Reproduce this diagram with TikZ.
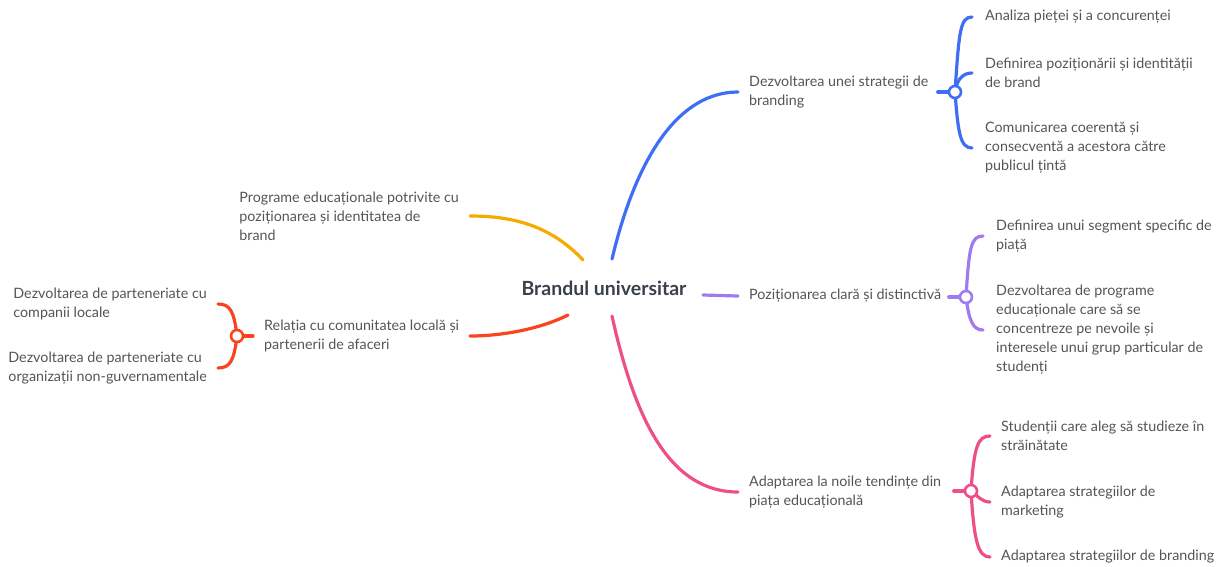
\documentclass[tikz,border=0pt]{standalone}
\usepackage{fontspec}
\setmainfont{Lato}
\usetikzlibrary{backgrounds}
\definecolor{cblue}{HTML}{3F6DF5}
\definecolor{cpurple}{HTML}{A07AF0}
\definecolor{cpink}{HTML}{EE4F88}
\definecolor{corange}{HTML}{F7AA00}
\definecolor{cred}{HTML}{FA4420}
\definecolor{txtgray}{HTML}{555555}
\definecolor{ctrtxt}{HTML}{3A4049}
\begin{document}
\begin{tikzpicture}[x=1pt,y=-1pt,
  font=\fontsize{14.3}{19}\selectfont,
  txt/.style={text=txtgray, align=left, inner ysep=0pt, inner xsep=11pt},
  hub/.style={circle, draw, line width=2.6pt, fill=white, minimum size=12pt, inner sep=0pt},
  conn/.style={line width=3.2pt, line cap=round}]
\begin{scope}[on background layer]
\fill[white] (0,0) rectangle (1222,566);
\end{scope}
\useasboundingbox (0,0) rectangle (1222,566);

% center
\node[font=\bfseries\fontsize{19.5}{22}\selectfont, text=ctrtxt] (c) at (604,288) {Brandul universitar};

% blue branch
\node[txt, anchor=west] (b) at (738,92) {Dezvoltarea unei strategii de\\branding};
\node[hub, draw=cblue] (bh) at (955,92) {};
\node[txt, anchor=west, inner xsep=13pt] (b1) at (972,17) {Analiza pieței și a concurenței};
\node[txt, anchor=west, inner xsep=13pt] (b2) at (972,73) {Definirea poziționării și identității\\de brand};
\node[txt, anchor=west, inner xsep=13pt] (b3) at (972,148) {Comunicarea coerentă și\\consecventă a acestora către\\publicul țintă};

% purple branch
\node[txt, anchor=west] (p) at (738,296) {Poziționarea clară și distinctivă};
\node[hub, draw=cpurple] (ph) at (966,297) {};
\node[txt, anchor=west, inner xsep=13pt] (p1) at (983,236) {Definirea unui segment specific de\\piață};
\node[txt, anchor=west, inner xsep=13pt] (p2) at (983,330) {Dezvoltarea de programe\\educaționale care să se\\concentreze pe nevoile și\\interesele unui grup particular de\\studenți};

% pink branch
\node[txt, anchor=west] (k) at (738,492) {Adaptarea la noile tendințe din\\piața educațională};
\node[hub, draw=cpink] (kh) at (971,491) {};
\node[txt, anchor=west] (k1) at (990,436) {Studenții care aleg să studieze în\\străinătate};
\node[txt, anchor=west] (k2) at (990,502) {Adaptarea strategiilor de\\marketing};
\node[txt, anchor=west] (k3) at (990,557) {Adaptarea strategiilor de branding};

% orange branch
\node[txt, anchor=east] (o) at (470,216) {Programe educaționale potrivite cu\\poziționarea și identitatea de\\brand};

% red branch
\node[txt, anchor=west] (r) at (253,336) {Relația cu comunitatea locală și\\partenerii de afaceri};
\node[hub, draw=cred] (rh) at (237,336) {};
\node[txt, anchor=east] (r1) at (218,304) {Dezvoltarea de parteneriate cu\\companii locale};
\node[txt, anchor=east] (r2) at (218,368) {Dezvoltarea de parteneriate cu\\organizații non-guvernamentale};

\begin{scope}[on background layer]
% main connectors
\draw[conn, cblue] ([shift={(8,-29)}]c.center) .. controls +(25,-105) and +(-58,0) .. (b.west);
\draw[conn, cpurple] ([shift={(99,7)}]c.center) -- (p.west);
\draw[conn, cpink] ([shift={(8,28)}]c.center) .. controls +(23,104) and +(-68,0) .. (k.west);
\draw[conn, corange] ([shift={(-21,-28)}]c.center) .. controls +(-33,-35) and +(42,0) .. (o.east);
\draw[conn, cred] ([shift={(-36,27)}]c.center) .. controls +(-28,14) and +(32,0) .. ([xshift=217pt]r.west);

% blue sub
\draw[conn, cblue] (bh.center) -- ([xshift=-10pt]bh.west);
\draw[conn, cblue] (bh.center) .. controls +(4,-60) and +(-12,0) .. (b1.west);
\draw[conn, cblue] (bh.center) .. controls +(2,-14) and +(-8,0) .. (b2.west);
\draw[conn, cblue] (bh.center) .. controls +(3,40) and +(-12,0) .. (b3.west);

% purple sub
\draw[conn, cpurple] (ph.center) -- ([xshift=-10pt]ph.west);
\draw[conn, cpurple] (ph.center) .. controls +(3,-50) and +(-12,0) .. (p1.west);
\draw[conn, cpurple] (ph.center) .. controls +(3,24) and +(-10,0) .. (p2.west);

% pink sub
\draw[conn, cpink] (kh.center) -- ([xshift=-10pt]kh.west);
\draw[conn, cpink] (kh.center) .. controls +(3,-45) and +(-12,0) .. (k1.west);
\draw[conn, cpink] (kh.center) .. controls +(8,6) and +(-8,0) .. (k2.west);
\draw[conn, cpink] (kh.center) .. controls +(3,50) and +(-12,0) .. (k3.west);

% red sub
\draw[conn, cred] (rh.center) -- (r.west);
\draw[conn, cred] (rh.center) .. controls +(-3,-25) and +(12,0) .. (r1.east);
\draw[conn, cred] (rh.center) .. controls +(-3,25) and +(12,0) .. (r2.east);
\end{scope}
\end{tikzpicture}
\end{document}
